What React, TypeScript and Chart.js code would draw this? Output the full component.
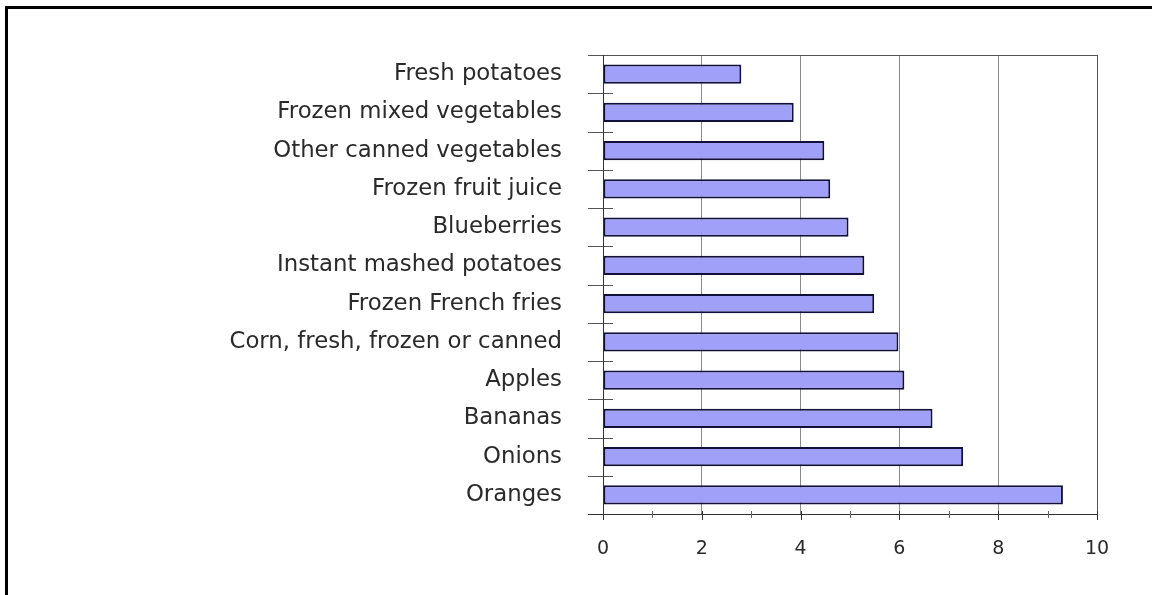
import React, { useEffect, useRef } from "react";
import { Chart, registerables } from "chart.js";

Chart.register(...registerables);

const categories = [
  "Fresh potatoes",
  "Frozen mixed vegetables",
  "Other canned vegetables",
  "Frozen fruit juice",
  "Blueberries",
  "Instant mashed potatoes",
  "Frozen French fries",
  "Corn, fresh, frozen or canned",
  "Apples",
  "Bananas",
  "Onions",
  "Oranges",
];

const values = [2.8, 3.86, 4.48, 4.6, 4.97, 5.29, 5.49, 5.98, 6.1, 6.67, 7.29, 9.31];

const xMajorTicks = [0, 2, 4, 6, 8, 10];
const xMinorTicks = [1, 3, 5, 7, 9];

const framePlugin = {
  id: "framePlugin",
  afterDatasetsDraw(chart: any) {
    const { ctx, chartArea } = chart;
    const { left, right, top, bottom } = chartArea;
    const xs = chart.scales.x;
    const n = categories.length;
    const h = (bottom - top) / n;
    ctx.save();
    ctx.lineWidth = 1;
    ctx.strokeStyle = "#555";
    for (let i = 0; i <= n; i++) {
      const y = Math.round(top + i * h) + 0.5;
      ctx.beginPath();
      ctx.moveTo(left - 15, y);
      ctx.lineTo(left + 10, y);
      ctx.stroke();
    }
    ctx.strokeStyle = "#555";
    ctx.beginPath();
    ctx.moveTo(left, Math.round(top) + 0.5);
    ctx.lineTo(right, Math.round(top) + 0.5);
    ctx.stroke();
    ctx.beginPath();
    ctx.moveTo(Math.round(right) + 0.5, top);
    ctx.lineTo(Math.round(right) + 0.5, bottom + 6);
    ctx.stroke();
    ctx.strokeStyle = "#333";
    ctx.beginPath();
    ctx.moveTo(left - 15, Math.round(bottom) + 0.5);
    ctx.lineTo(right, Math.round(bottom) + 0.5);
    ctx.stroke();
    ctx.beginPath();
    ctx.moveTo(Math.round(left) + 0.5, top);
    ctx.lineTo(Math.round(left) + 0.5, bottom + 6);
    ctx.stroke();
    for (const v of xMajorTicks) {
      const x = Math.round(xs.getPixelForValue(v)) + 0.5;
      ctx.beginPath();
      ctx.moveTo(x, bottom - 3);
      ctx.lineTo(x, bottom + 6);
      ctx.stroke();
    }
    ctx.strokeStyle = "#666";
    for (const v of xMinorTicks) {
      const x = Math.round(xs.getPixelForValue(v)) + 0.5;
      ctx.beginPath();
      ctx.moveTo(x, bottom - 3);
      ctx.lineTo(x, bottom + 4);
      ctx.stroke();
    }
    ctx.restore();
  },
};

export default function App() {
  const canvasRef = useRef<HTMLCanvasElement | null>(null);

  useEffect(() => {
    const canvas = canvasRef.current;
    if (!canvas) return;
    const chart = new Chart(canvas, {
      type: "bar",
      data: {
        labels: categories,
        datasets: [
          {
            data: values,
            backgroundColor: "#a0a0f8",
            borderColor: "#10103a",
            borderWidth: 2,
            borderSkipped: false,
            barPercentage: 0.5,
            categoryPercentage: 1.0,
          },
        ],
      },
      options: {
        indexAxis: "y",
        animation: false,
        responsive: false,
        devicePixelRatio: 1,
        layout: { padding: { left: 0, top: 55, right: 55, bottom: 0 } },
        plugins: {
          legend: { display: false },
          tooltip: { enabled: false },
        },
        scales: {
          x: {
            min: 0,
            max: 10,
            ticks: {
              stepSize: 2,
              color: "#2a2a2a",
              padding: 24,
              font: { family: "'DejaVu Sans'", size: 19 },
            },
            grid: {
              color: "#8a8a8a",
              lineWidth: 1,
              drawTicks: false,
            },
            border: { display: false },
            afterFit: (scale: any) => {
              scale.height = 81;
            },
          },
          y: {
            ticks: {
              color: "#2a2a2a",
              padding: 41,
              font: { family: "'DejaVu Sans'", size: 22.8 },
            },
            grid: { display: false, drawTicks: false },
            border: { display: false },
            afterFit: (scale: any) => {
              scale.width = 603;
            },
          },
        },
      },
      plugins: [framePlugin],
    });
    return () => chart.destroy();
  }, []);

  return (
    <div style={{ position: "fixed", left: 0, top: 0, width: 1152, height: 595, background: "#fff" }}>
      <div
        style={{
          position: "absolute",
          left: 5,
          top: 6,
          width: 1147,
          height: 589,
          borderTop: "3px solid #000",
          borderLeft: "3px solid #000",
          boxSizing: "border-box",
        }}
      />
      <canvas
        ref={canvasRef}
        width={1152}
        height={595}
        style={{ position: "absolute", left: 0, top: 0, width: 1152, height: 595, display: "block" }}
      />
    </div>
  );
}
